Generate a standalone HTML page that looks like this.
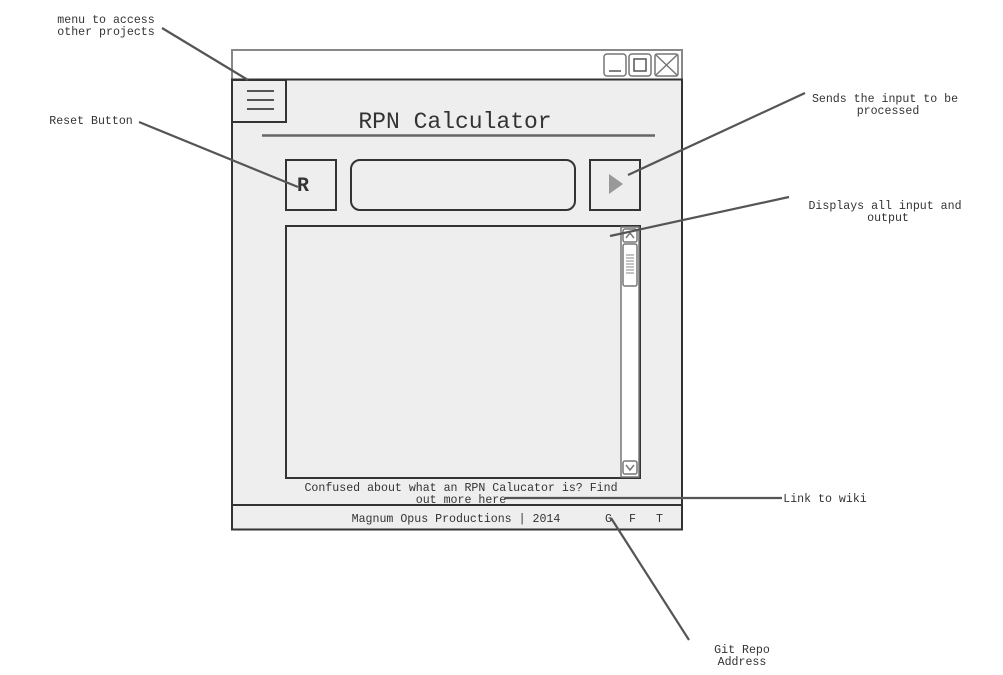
<!DOCTYPE html>
<html><head><meta charset="utf-8"><style>
html,body{margin:0;padding:0;background:#fff;}
svg{display:block;}
text{font-family:"Liberation Mono",monospace;fill:#333;}
</style></head><body>
<svg width="1003" height="675" viewBox="0 0 1003 675" xmlns="http://www.w3.org/2000/svg">
<rect x="232" y="50" width="450" height="30" fill="#fff" stroke="#888" stroke-width="2"/>
<rect x="232" y="79.5" width="450" height="450" fill="#eee" stroke="#333" stroke-width="2"/>
<rect x="604" y="54" width="22" height="22" rx="3" fill="#fff" stroke="#777" stroke-width="1.5"/>
<line x1="609" y1="71" x2="621" y2="71" stroke="#555" stroke-width="1.5"/>
<rect x="629" y="54" width="22" height="22" rx="3" fill="#fff" stroke="#777" stroke-width="1.5"/>
<rect x="634" y="59" width="12" height="12" fill="none" stroke="#555" stroke-width="1.5"/>
<rect x="655" y="54" width="23" height="22" rx="2" fill="#fff" stroke="#777" stroke-width="1.5"/>
<line x1="656" y1="55" x2="677" y2="75" stroke="#777" stroke-width="1.5"/>
<line x1="677" y1="55" x2="656" y2="75" stroke="#777" stroke-width="1.5"/>
<rect x="232" y="80" width="54" height="42" fill="#eee" stroke="#333" stroke-width="2"/>
<g stroke="#555" stroke-width="2"><line x1="247" y1="91" x2="274" y2="91"/><line x1="247" y1="100" x2="274" y2="100"/><line x1="247" y1="109" x2="274" y2="109"/></g>
<text x="455" y="128" font-size="23" text-anchor="middle">RPN Calculator</text>
<line x1="262" y1="135.5" x2="655" y2="135.5" stroke="#666" stroke-width="2.5"/>
<rect x="286" y="160" width="50" height="50" fill="#eee" stroke="#333" stroke-width="2"/>
<text x="297" y="191" font-size="20" font-weight="bold" fill="#222">R</text>
<rect x="351" y="160" width="224" height="50" rx="9" fill="#eee" stroke="#333" stroke-width="2"/>
<rect x="590" y="160" width="50" height="50" fill="#eee" stroke="#333" stroke-width="2"/>
<polygon points="609,174 609,194 623,184" fill="#999"/>
<rect x="286" y="226" width="354" height="252" fill="#eee" stroke="#333" stroke-width="2"/>
<rect x="621" y="227" width="18" height="250" fill="#fff" stroke="#777" stroke-width="1.5"/>
<rect x="623" y="229" width="14" height="13" rx="2" fill="#fff" stroke="#777" stroke-width="1.5"/>
<polyline points="626,238 630,233 634,238" fill="none" stroke="#777" stroke-width="1.5"/>
<rect x="623" y="244" width="14" height="42" rx="2" fill="#fff" stroke="#777" stroke-width="1.5"/>
<g stroke="#888" stroke-width="1"><line x1="626" y1="255" x2="634" y2="255"/><line x1="626" y1="258" x2="634" y2="258"/><line x1="626" y1="261" x2="634" y2="261"/><line x1="626" y1="264" x2="634" y2="264"/><line x1="626" y1="267" x2="634" y2="267"/><line x1="626" y1="270" x2="634" y2="270"/><line x1="626" y1="273" x2="634" y2="273"/></g>
<rect x="623" y="461" width="14" height="13" rx="2" fill="#fff" stroke="#777" stroke-width="1.5"/>
<polyline points="626,465 630,470 634,465" fill="none" stroke="#777" stroke-width="1.5"/>
<text x="461" y="491" font-size="11.6" text-anchor="middle">Confused about what an RPN Calucator is? Find</text>
<text x="461" y="503" font-size="11.6" text-anchor="middle">out more here</text>
<line x1="232" y1="505" x2="682" y2="505" stroke="#333" stroke-width="2"/>
<text x="456" y="522" font-size="11.6" text-anchor="middle">Magnum Opus Productions | 2014</text>
<text x="605" y="522" font-size="11.6">G</text>
<text x="629" y="522" font-size="11.6">F</text>
<text x="656" y="522" font-size="11.6">T</text>
<g stroke="#555" stroke-width="2.2" fill="none">
<line x1="162" y1="28" x2="248" y2="80"/>
<line x1="139" y1="122" x2="298" y2="187"/>
<line x1="805" y1="93" x2="628" y2="175"/>
<line x1="789" y1="197" x2="610" y2="236"/>
<line x1="782" y1="498" x2="505" y2="498"/>
<line x1="611" y1="518" x2="689" y2="640"/>
</g>
<g font-size="11.6" text-anchor="middle">
<text x="106" y="23">menu to access</text><text x="106" y="35">other projects</text>
<text x="91" y="124">Reset Button</text>
<text x="885" y="102">Sends the input to be</text><text x="888" y="114">processed</text>
<text x="885" y="209">Displays all input and</text><text x="888" y="221">output</text>
<text x="825" y="502">Link to wiki</text>
<text x="742" y="653">Git Repo</text><text x="742" y="665">Address</text>
</g>
</svg>
</body></html>
